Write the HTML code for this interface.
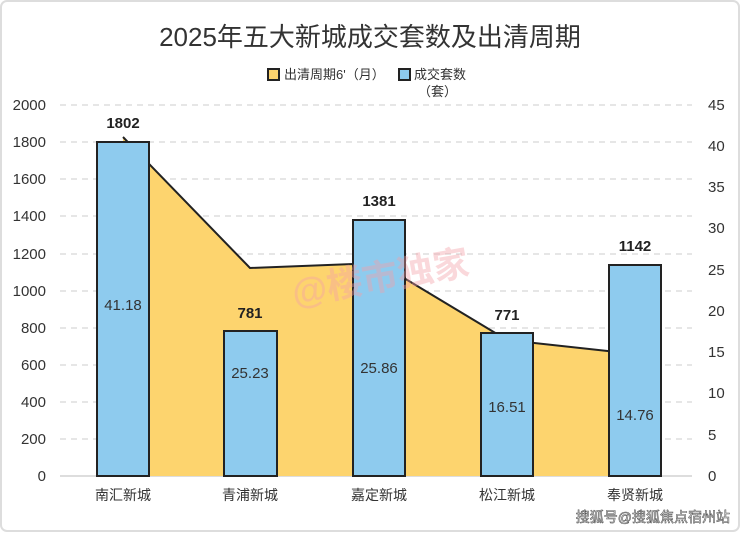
<!DOCTYPE html>
<html><head><meta charset="utf-8"><style>
body{margin:0;background:#fff;}
svg text{font-family:"Liberation Sans","Noto Sans CJK SC",sans-serif;}
</style></head><body>
<svg width="740" height="532" viewBox="0 0 740 532" xmlns="http://www.w3.org/2000/svg">
<rect x="1" y="1" width="738" height="530" rx="6" fill="#fff" stroke="#ddd" stroke-width="2"/>
<text x="370" y="46" font-size="26" text-anchor="middle" fill="#333">2025年五大新城成交套数及出清周期</text>
<rect x="268" y="69" width="11" height="11" fill="#fdd46e" stroke="#222" stroke-width="2"/>
<text x="284" y="79" font-size="13" fill="#333">出清周期6'（月）</text>
<rect x="399" y="69" width="11" height="11" fill="#8ecbee" stroke="#222" stroke-width="2"/>
<text x="414" y="79" font-size="13" fill="#333">成交套数</text>
<text x="418" y="96" font-size="13" fill="#333">（套）</text>
<g stroke="#ccc" stroke-dasharray="6,5" stroke-width="1">
<line x1="60" x2="692" y1="105" y2="105"/><line x1="60" x2="692" y1="142" y2="142"/><line x1="60" x2="692" y1="179" y2="179"/><line x1="60" x2="692" y1="216" y2="216"/><line x1="60" x2="692" y1="254" y2="254"/><line x1="60" x2="692" y1="291" y2="291"/><line x1="60" x2="692" y1="328" y2="328"/><line x1="60" x2="692" y1="365" y2="365"/><line x1="60" x2="692" y1="402" y2="402"/><line x1="60" x2="692" y1="439" y2="439"/>
</g>
<line x1="60" x2="692" y1="476" y2="476" stroke="#bbb"/>
<g font-size="15" fill="#333" text-anchor="end">
<text x="46" y="110">2000</text><text x="46" y="147">1800</text><text x="46" y="184">1600</text><text x="46" y="221">1400</text><text x="46" y="259">1200</text><text x="46" y="296">1000</text><text x="46" y="333">800</text><text x="46" y="370">600</text><text x="46" y="407">400</text><text x="46" y="444">200</text><text x="46" y="481">0</text>
</g>
<g font-size="15" fill="#333" text-anchor="start">
<text x="708" y="110">45</text><text x="708" y="151">40</text><text x="708" y="192">35</text><text x="708" y="233">30</text><text x="708" y="275">25</text><text x="708" y="316">20</text><text x="708" y="357">15</text><text x="708" y="398">10</text><text x="708" y="440">5</text><text x="708" y="481">0</text>
</g>
<polygon points="123,476 123,137 250,268 379,263 507,340 635,354 635,476" fill="#fdd46e"/>
<polyline points="123,137 250,268 379,263 507,340 635,354" fill="none" stroke="#222" stroke-width="2"/>
<g fill="#8ecbee" stroke="#222" stroke-width="2">
<rect x="97" y="142" width="52" height="334"/>
<rect x="224" y="331" width="53" height="145"/>
<rect x="353" y="220" width="52" height="256"/>
<rect x="481" y="333" width="52" height="143"/>
<rect x="609" y="265" width="52" height="211"/>
</g>
<text x="380" y="290" font-size="36" font-weight="bold" fill="#f4a0a8" opacity="0.4" text-anchor="middle" transform="rotate(-10 380 275)">@楼市独家</text>
<g font-size="15" fill="#333" text-anchor="middle">
<text x="123" y="310">41.18</text><text x="250" y="378">25.23</text><text x="379" y="373">25.86</text><text x="507" y="412">16.51</text><text x="635" y="420">14.76</text>
</g>
<g font-size="15" font-weight="bold" fill="#222" text-anchor="middle">
<text x="123" y="128">1802</text><text x="250" y="318">781</text><text x="379" y="206">1381</text><text x="507" y="320">771</text><text x="635" y="251">1142</text>
</g>
<g font-size="14" fill="#333" text-anchor="middle">
<text x="123" y="500">南汇新城</text><text x="250" y="500">青浦新城</text><text x="379" y="500">嘉定新城</text><text x="507" y="500">松江新城</text><text x="635" y="500">奉贤新城</text>
</g>
<text x="730" y="522" font-size="14" fill="#fff" stroke="#555" stroke-width="0.6" text-anchor="end">搜狐号@搜狐焦点宿州站</text>
</svg>
</body></html>
